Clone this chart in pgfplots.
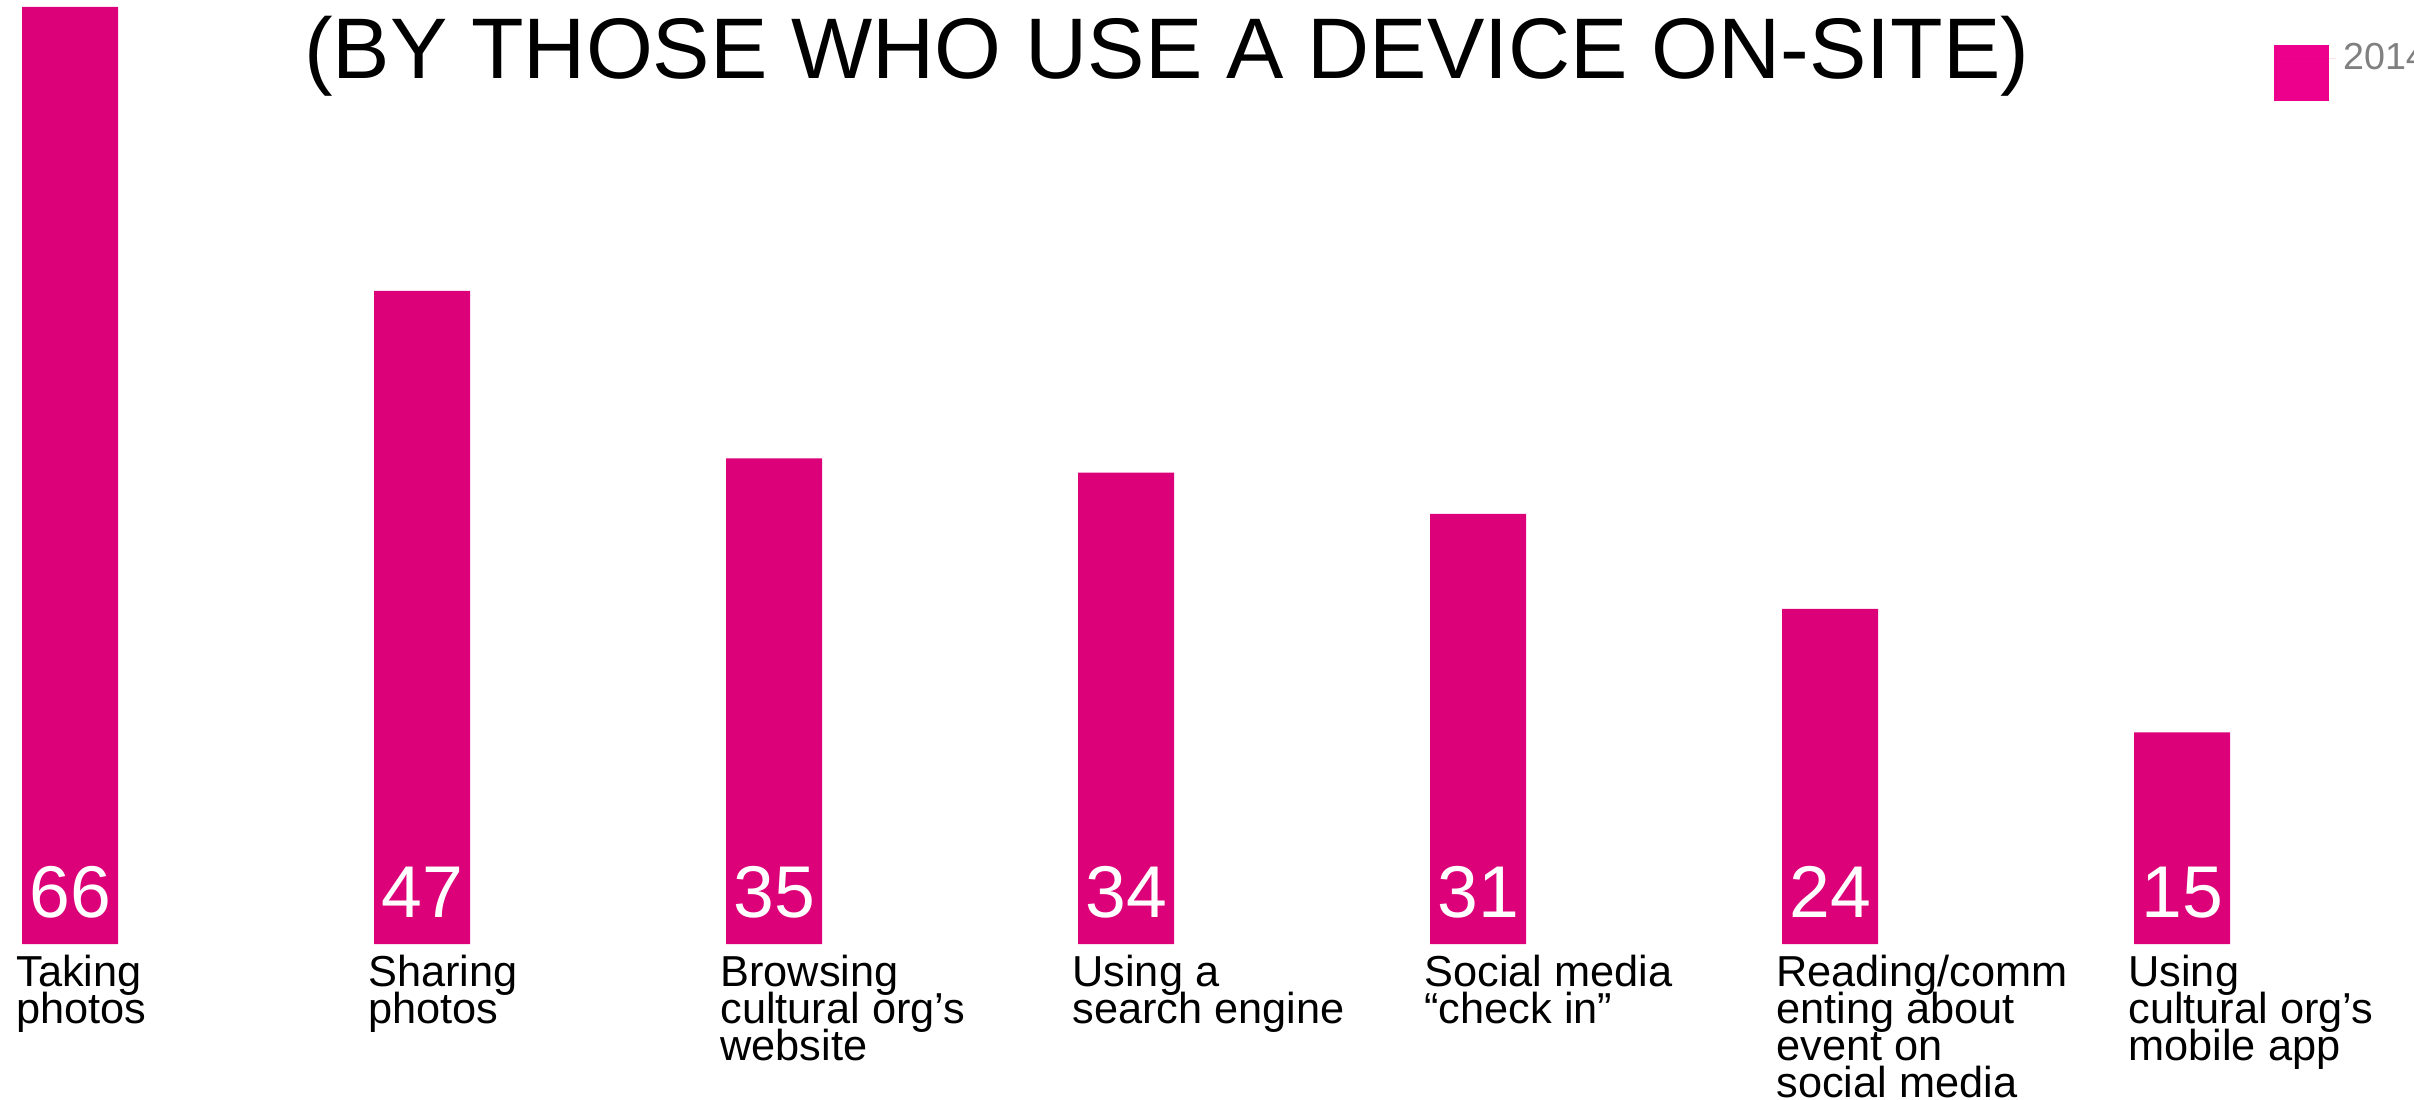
\documentclass[border=0pt]{standalone}
\usepackage{fontspec}
\setmainfont{Liberation Sans}
\usepackage{pgfplots}
\pgfplotsset{compat=1.18}
\definecolor{barpink}{HTML}{DC0079}
\definecolor{legpink}{HTML}{EC008C}
\definecolor{leggray}{HTML}{808080}
\begin{document}
\lineskiplimit=-100pt
\lineskip=0pt
\begin{tikzpicture}[x=1pt,y=1pt]
\useasboundingbox (0,0) rectangle (724.2,329.7);
\clip (0,0) rectangle (724.2,329.7);
\begin{axis}[
  at={(0pt,46.5pt)}, anchor=south west,
  scale only axis, width=724.2pt, height=283.2pt,
  xmin=-0.1989, xmax=6.659, ymin=0, ymax=66.49,
  axis line style={draw=none},
  ytick=\empty,
  xtick={0,1,2,3,4,5,6},
  major tick length=0pt,
  xticklabels={{Taking\\photos},{Sharing\\photos},{Browsing\\cultural org’s\\website},{Using a\\search engine},{Social media\\“check in”},{Reading/comm\\enting about\\event on\\social media},{Using\\cultural org’s\\mobile app}},
  xticklabel style={anchor=north west, align=left, inner sep=0pt, xshift=-16.3pt, yshift=-3.1pt, font=\fontsize{13pt}{11.1pt}\selectfont},
  title={(BY THOSE WHO USE A DEVICE ON-SITE)},
  title style={at={(0.4833,0.8956)}, anchor=base, inner sep=0pt, font=\fontsize{25.8pt}{30pt}\selectfont},
  legend style={at={(0.9419,0.9619)}, anchor=north west, draw=none, fill=none, inner sep=0pt, text=leggray, font=\fontsize{11.3pt}{13pt}\selectfont},
]
\addplot[ybar, bar width=28.8pt, fill=barpink, draw=none,
  legend image code/.code={\fill[legpink] (0pt,-12.6pt) rectangle (16.3pt,4.2pt); \path (0pt,0pt) -- (18.6pt,0pt);}]
  coordinates {(0,66) (1,46.0) (2,34.2) (3,33.2) (4,30.3) (5,23.6) (6,14.9)};
\addlegendentry{2014}
\addplot[draw=none, mark=none, forget plot, nodes near coords, point meta=explicit symbolic,
  every node near coord/.style={anchor=base, yshift=7.9pt, text=white, inner sep=0pt, font=\fontsize{22pt}{26pt}\selectfont}]
  coordinates {(0,0) [66] (1,0) [47] (2,0) [35] (3,0) [34] (4,0) [31] (5,0) [24] (6,0) [15]};
\end{axis}
\end{tikzpicture}
\end{document}
